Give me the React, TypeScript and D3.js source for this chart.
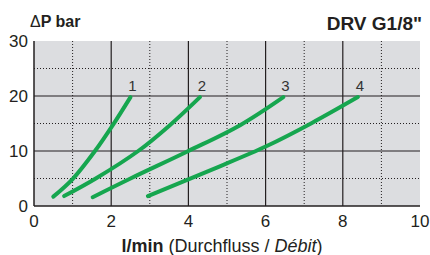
import React from "react";
import * as d3 from "d3";

// flow (l/min) vs pressure drop (bar)
const curveNames = ["1", "2", "3", "4"];
const curveFlow = [
  [0.5, 1.0, 1.58, 2.05, 2.5],
  [0.78, 1.6, 2.7, 3.52, 4.3],
  [1.52, 2.5, 4.0, 5.34, 6.46],
  [2.95, 4.69, 6.03, 7.2, 8.39],
];
const curvePressure = [
  [1.7, 4.9, 10, 14.8, 19.8],
  [1.8, 5, 10, 14.7, 19.8],
  [1.6, 5, 10, 14.7, 19.8],
  [1.8, 6.85, 10.9, 15.1, 19.8],
];
const xTicks = [0, 2, 4, 6, 8, 10];
const yTicks = [0, 10, 20, 30];
const xMinor = [1, 3, 5, 7, 9];
const yMinor = [5, 15, 25];

const W = 430;
const H = 255;
const M = { top: 41, right: 10, bottom: 49, left: 34 };
const GREEN = "#16a64f";
const INK = "#231f20";
const FONT = "'Liberation Sans', Arial, sans-serif";

export default function App() {
  const x = d3.scaleLinear().domain([0, 10]).range([M.left, W - M.right]);
  const y = d3.scaleLinear().domain([0, 30]).range([H - M.bottom, M.top]);

  const line = d3
    .line<[number, number]>()
    .x((d) => x(d[0]))
    .y((d) => y(d[1]))
    .curve(d3.curveCatmullRom.alpha(0.5));

  const series = curveNames.map((name, i) => ({
    name,
    pts: curveFlow[i].map((f, j) => [f, curvePressure[i][j]] as [number, number]),
  }));

  const [x0, x1] = x.range();
  const [y0, y1] = y.range();

  return (
    <svg width={W} height={H} style={{ position: "absolute", left: 0, top: 0 }} fontFamily={FONT}>
      <rect x={x0} y={y1} width={x1 - x0} height={y0 - y1} fill="#dcdde0" />

      {/* dotted minor grid */}
      {xMinor.map((t) => (
        <line key={"xm" + t} x1={x(t)} x2={x(t)} y1={y1} y2={y0} stroke={INK} strokeWidth={1} strokeDasharray="1,2" />
      ))}
      {yMinor.map((t) => (
        <line key={"ym" + t} x1={x0} x2={x1} y1={y(t)} y2={y(t)} stroke={INK} strokeWidth={1} strokeDasharray="1,2" />
      ))}

      {/* solid major grid */}
      {xTicks.slice(1, -1).map((t) => (
        <line key={"xg" + t} x1={x(t)} x2={x(t)} y1={y1} y2={y0} stroke={INK} strokeWidth={1.2} />
      ))}
      {yTicks.slice(1, -1).map((t) => (
        <line key={"yg" + t} x1={x0} x2={x1} y1={y(t)} y2={y(t)} stroke={INK} strokeWidth={1.2} />
      ))}

      {/* axes */}
      <line x1={x0} x2={x0} y1={y1} y2={y0} stroke={INK} strokeWidth={1.5} />
      <line x1={x0} x2={x1} y1={y0} y2={y0} stroke={INK} strokeWidth={1.5} />

      {series.map((s) => (
        <path key={s.name} d={line(s.pts) ?? ""} fill="none" stroke={GREEN} strokeWidth={4} strokeLinecap="round" />
      ))}
      {series.map((s) => {
        const last = s.pts[s.pts.length - 1];
        return (
          <text key={"l" + s.name} x={x(last[0]) + 2} y={y(last[1]) - 6} fontSize={15} fill="#333" textAnchor="middle">
            {s.name}
          </text>
        );
      })}

      {yTicks.map((t) => (
        <text key={"yt" + t} x={x0 - 6} y={y(t)} dy="0.36em" fontSize={17} fill={INK} textAnchor="end">
          {t}
        </text>
      ))}
      {xTicks.map((t) => (
        <text key={"xt" + t} x={x(t)} y={227} fontSize={17} fill={INK} textAnchor="middle">
          {t}
        </text>
      ))}

      <text x={30} y={26.5} fontSize={16} fill={INK}>
        <tspan>Δ</tspan>
        <tspan fontWeight="bold">P bar</tspan>
      </text>
      <text x={422} y={30} fontSize={19} fontWeight="bold" fill={INK} textAnchor="end">
        DRV G1/8"
      </text>

      <text x={222} y={251.5} fontSize={18} fill={INK} textAnchor="middle">
        <tspan fontWeight="bold">l/min</tspan>
        <tspan> (Durchfluss / </tspan>
        <tspan fontStyle="italic">Débit</tspan>
        <tspan>)</tspan>
      </text>
    </svg>
  );
}
